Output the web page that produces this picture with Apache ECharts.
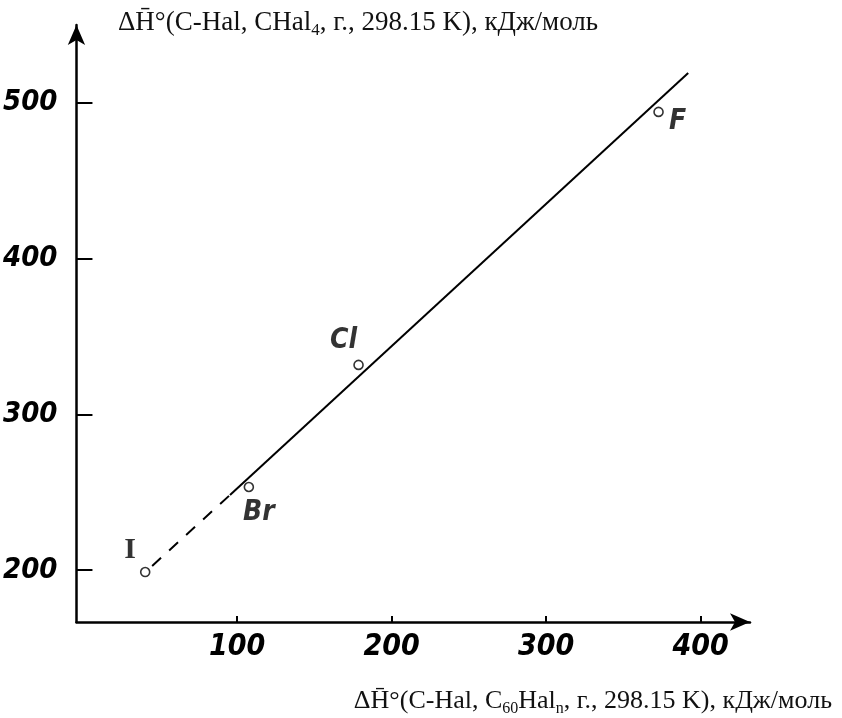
<!DOCTYPE html>
<html>
<head>
<meta charset="utf-8">
<script src="https://cdn.jsdelivr.net/npm/echarts@6/dist/echarts.min.js"></script>
<style>html,body{margin:0;padding:0;background:#fff}#c{width:842px;height:718px}</style>
</head>
<body>
<div id="c"></div>
<script>
// ---- data ----
const pointNames = ['I', 'Br', 'Cl', 'F'];
const pointX = [40.5, 107.6, 178.6, 372.8];   // ΔH°(C-Hal, C60Haln)
const pointY = [198.7, 253.3, 331.7, 494.2];  // ΔH°(C-Hal, CHal4)
const dashedX = [45, 95.4];
const dashedY = [202.6, 248.2];
const solidX = [95.4, 392];
const solidY = [248.2, 519.2];
const xTickValues = [100, 200, 300, 400];
const yTickValues = [200, 300, 400, 500];

// label placement (style only)
const labelOffsets = { I: [-15, -22], Br: [10, 26], Cl: [-15, -24], F: [19, 10] };

const hand = '"Liberation Sans Narrow","DejaVu Sans Condensed","DejaVu Sans",sans-serif';
const serif = '"Liberation Serif","DejaVu Serif",serif';

const chart = echarts.init(document.getElementById('c'), null, { renderer: 'canvas' });

const zip = (a, b) => a.map((v, i) => [v, b[i]]);

const makeRich = (size, subSize) => ({
  m: { fontFamily: serif, fontSize: size, fontWeight: 'normal', color: '#111', lineHeight: 32, verticalAlign: 'middle' },
  s: { fontFamily: serif, fontSize: subSize, fontWeight: 'normal', color: '#111', lineHeight: subSize, verticalAlign: 'bottom' }
});

chart.setOption({
  animation: false,
  backgroundColor: '#fff',
  title: [
    {
      left: 113, top: 2,
      text: '{m|ΔH\u0304°(C-Hal, CHal}{s|4}{m|, г., 298.15 K), кДж/моль}',
      textStyle: { fontWeight: 'normal', rich: makeRich(27, 17) }
    },
    {
      right: 5, top: 680,
      text: '{m|ΔH\u0304°(C-Hal, C}{s|60}{m|Hal}{s|n}{m|, г., 298.15 K), кДж/моль}',
      textStyle: { fontWeight: 'normal', rich: makeRich(26, 16) }
    }
  ],
  grid: { left: 74, top: 25, right: 92, bottom: 96, containLabel: false },
  xAxis: {
    type: 'value', min: -4, max: 432,
    splitLine: { show: false },
    axisLine: { show: true, onZero: false, symbol: ['none', 'arrow'], symbolSize: [13, 20],
      lineStyle: { color: '#000', width: 2.5 } },
    axisTick: { show: true, inside: true, length: 6, customValues: xTickValues,
      lineStyle: { color: '#000', width: 2 } },
    axisLabel: { customValues: xTickValues, margin: 10, color: '#000',
      fontFamily: hand, fontWeight: 'bold', fontStyle: 'italic', fontSize: 30 }
  },
  yAxis: {
    type: 'value', min: 166.6, max: 550,
    splitLine: { show: false },
    axisLine: { show: true, onZero: false, symbol: ['none', 'arrow'], symbolSize: [13, 20],
      lineStyle: { color: '#000', width: 2.5 } },
    axisTick: { show: true, inside: true, length: 16, customValues: yTickValues,
      lineStyle: { color: '#000', width: 2 } },
    axisLabel: { customValues: yTickValues, margin: 19, color: '#000',
      fontFamily: hand, fontWeight: 'bold', fontStyle: 'italic', fontSize: 29 }
  },
  series: [
    {
      type: 'line', data: zip(solidX, solidY), symbol: 'none',
      lineStyle: { color: '#000', width: 2 }, z: 2
    },
    {
      type: 'line', data: zip(dashedX, dashedY), symbol: 'none',
      lineStyle: { color: '#000', width: 2, type: [12, 11] }, z: 2
    },
    {
      type: 'scatter',
      data: pointNames.map((n, i) => ({
        value: [pointX[i], pointY[i]], name: n,
        label: n === 'I'
          ? { offset: labelOffsets[n], fontFamily: serif, fontStyle: 'normal', fontSize: 30 }
          : { offset: labelOffsets[n] }
      })),
      symbol: 'circle', symbolSize: 9,
      itemStyle: { color: '#fff', borderColor: '#000', borderWidth: 1.6 },
      label: {
        show: true, position: 'inside', formatter: p => p.name,
        color: '#000', fontFamily: hand, fontWeight: 'bold', fontStyle: 'italic', fontSize: 28
      },
      z: 3
    }
  ]
});
</script>
</body>
</html>
